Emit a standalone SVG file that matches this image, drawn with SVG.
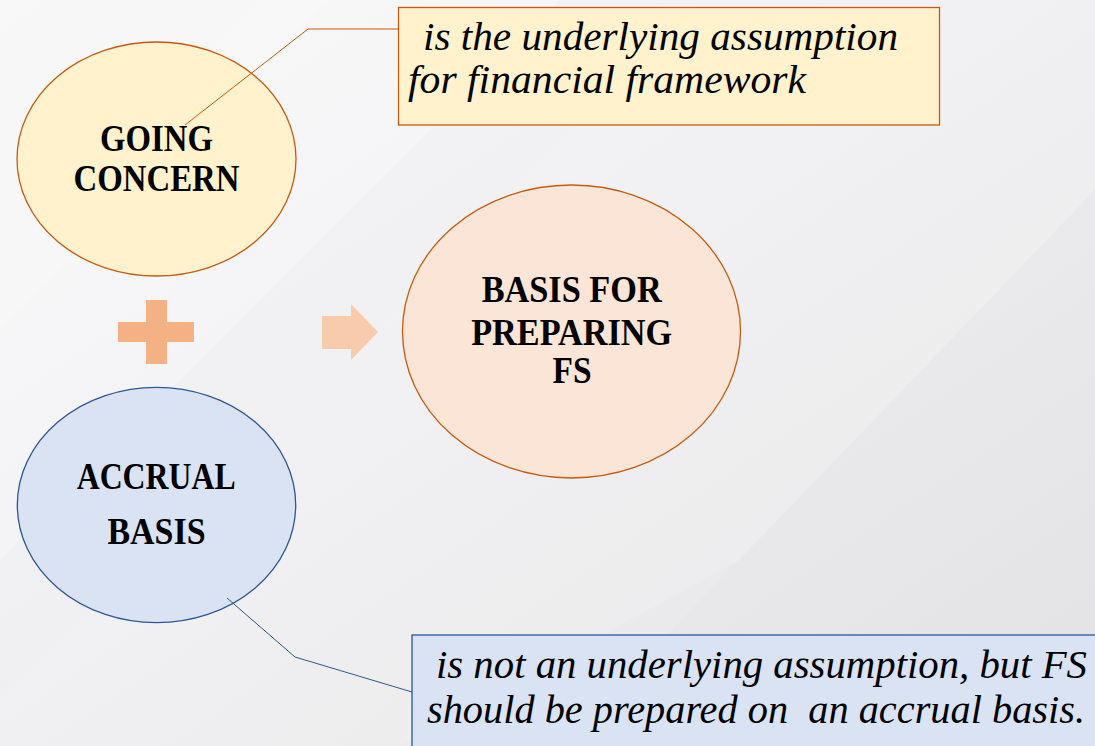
<svg xmlns="http://www.w3.org/2000/svg" width="1095" height="746" viewBox="0 0 1095 746">
  <defs>
    <linearGradient id="bg" x1="0" y1="0" x2="1" y2="1">
      <stop offset="0" stop-color="#F6F6F7"/>
      <stop offset="0.5" stop-color="#EFEFF1"/>
      <stop offset="1" stop-color="#E4E4E6"/>
    </linearGradient>
    <style>
      .lbl { font-family: "Liberation Serif", "Times New Roman", serif; font-weight: bold; font-size: 38px; fill: #000; text-anchor: middle; }
      .note { font-family: "Liberation Serif", "Times New Roman", serif; font-style: italic; font-size: 39px; fill: #000; white-space: pre; }
      .orange { stroke: #C55A11; stroke-width: 1.3; }
      .blue { stroke: #2F5597; stroke-width: 1.3; }
      .conn { fill: none; stroke-width: 1; }
    </style>
  </defs>

  <!-- background -->
  <rect x="0" y="0" width="1095" height="746" fill="url(#bg)"/>
  <g id="background-bands" fill="#FFFFFF">
    <polygon points="0,0 560,0 0,560" opacity="0.25"/>
    <polygon points="700,0 1095,0 1095,190 740,560 400,746 0,746 0,700" opacity="0.10"/>
    <polygon points="1095,190 1095,746 560,746" fill="#DCDCDF" opacity="0.10"/>
    <polygon points="0,260 260,0 330,0 0,330" opacity="0.15"/>
  </g>

  <!-- Going concern -->
  <g id="node-going-concern">
    <ellipse cx="156.5" cy="159" rx="139.5" ry="117" fill="#FFF2CC" class="orange"/>
    <text class="lbl" x="156.5" y="151" textLength="113" lengthAdjust="spacingAndGlyphs">GOING</text>
    <text class="lbl" x="156.5" y="191" textLength="166" lengthAdjust="spacingAndGlyphs">CONCERN</text>
  </g>

  <!-- Plus operator -->
  <g id="op-plus" fill="#F4B183">
    <rect x="146" y="300" width="21" height="64"/>
    <rect x="118" y="322" width="76" height="20"/>
  </g>

  <!-- Arrow -->
  <g id="op-arrow">
    <polygon points="322,316 351,316 351,304 378,332 351,360 351,349 322,349" fill="#F8CBAD"/>
  </g>

  <!-- Basis for preparing FS -->
  <g id="node-basis">
    <ellipse cx="571.5" cy="331.5" rx="169" ry="146.5" fill="#FBE5D6" class="orange"/>
    <text class="lbl" x="571.7" y="302" textLength="180" lengthAdjust="spacingAndGlyphs">BASIS FOR</text>
    <text class="lbl" x="571.7" y="345" textLength="201" lengthAdjust="spacingAndGlyphs">PREPARING</text>
    <text class="lbl" x="572" y="383" textLength="39" lengthAdjust="spacingAndGlyphs">FS</text>
  </g>

  <!-- Accrual basis -->
  <g id="node-accrual">
    <ellipse cx="156.5" cy="505" rx="139.2" ry="117.7" fill="#DAE3F3" class="blue"/>
    <text class="lbl" x="156.2" y="489" textLength="159" lengthAdjust="spacingAndGlyphs">ACCRUAL</text>
    <text class="lbl" x="156.5" y="544" textLength="98" lengthAdjust="spacingAndGlyphs">BASIS</text>
  </g>

  <!-- connectors -->
  <g id="connectors" class="conn">
    <polyline class="conn orange" points="185,125 308,29 398,29"/>
    <polyline class="conn blue" points="227,598 295,657 412,692"/>
  </g>

  <!-- Top callout -->
  <g id="node-callout-top">
    <rect x="398.5" y="7.5" width="541" height="117.5" fill="#FFF2CC" stroke="#C55A11" stroke-width="1.3"/>
    <text class="note" x="423" y="50" textLength="475" lengthAdjust="spacingAndGlyphs">is the underlying assumption</text>
    <text class="note" x="408" y="93" textLength="398" lengthAdjust="spacingAndGlyphs">for financial framework</text>
  </g>

  <!-- Bottom callout -->
  <g id="node-callout-bottom">
    <rect x="412" y="635" width="700" height="130" fill="#DAE3F3" stroke="#2F5597" stroke-width="1.3"/>
    <text class="note" x="436" y="678" textLength="651" lengthAdjust="spacingAndGlyphs">is not an underlying assumption, but FS</text>
    <text class="note" x="427" y="722.5" textLength="658" lengthAdjust="spacingAndGlyphs">should be prepared on  an accrual basis.</text>
  </g>
</svg>
